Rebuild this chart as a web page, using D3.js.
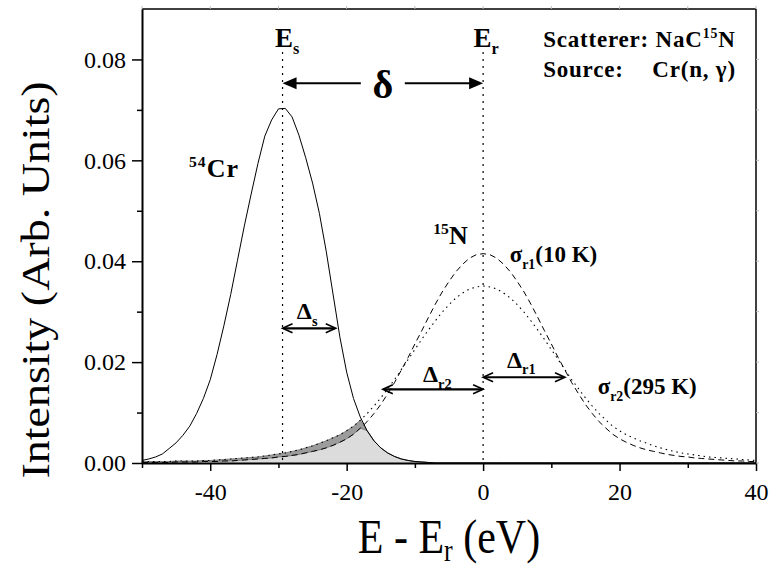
<!DOCTYPE html>
<html>
<head>
<meta charset="utf-8">
<script src="https://cdn.jsdelivr.net/npm/d3@7"></script>
<style>
  body { margin: 0; background: #fff; }
  svg text { font-family: "Liberation Serif", "Times New Roman", serif; fill: #000; }
</style>
</head>
<body>
<svg id="chart" width="770" height="571"></svg>
<script>
// ---- Data ----
// energy grid, E - Er in eV
const energies = [
  -50,-49,-48,-47,-46,-45,-44,-43,-42,-41,
  -40,-39,-38,-37,-36,-35,-34,-33,-32,-31,
  -30,-29,-28,-27,-26,-25,-24,-23,-22,-21,
  -20,-19,-18,-17,-16,-15,-14,-13,-12,-11,
  -10,-9,-8,-7,-6,-5,-4,-3,-2,-1,
  0,
  1,2,3,4,5,6,7,8,9,10,
  11,12,13,14,15,16,17,18,19,20,
  21,22,23,24,25,26,27,28,29,30,
  31,32,33,34,35,36,37,38,39,40
];

// 54Cr source line (solid)
const crIntensity = [
  .0005,.0008,.0012,.0018,.0029,.0040,.0055,.0073,.0098,.0128,
  .0165,.0215,.0272,.0334,.0402,.0470,.0533,.0594,.0648,.0680,
  .0702,.0703,.0686,.0650,.0605,.0555,.0495,.0420,.0335,.0250,
  .0180,.0128,.0091,.0064,.0044,.0030,.0020,.0013,.0008,.0005,
  .0003,.0002,.0001,0,0,0,0,0,0,0,
  0,
  0,0,0,0,0,0,0,0,0,0,
  0,0,0,0,0,0,0,0,0,0,
  0,0,0,0,0,0,0,0,0,0,
  0,0,0,0,0,0,0,0,0,0
];

// 15N resonance, sigma_r1 (10 K), dashed
const sigmaR1 = [
  .0001,.0001,.0001,.0001,.0001,.0002,.0002,.0002,.0002,.0003,
  .0003,.0003,.0004,.0004,.0005,.0006,.0007,.0008,.0009,.0010,
  .0012,.0013,.0015,.0017,.0020,.0023,.0026,.0030,.0035,.0041,
  .0048,.0057,.0069,.0082,.0098,.0116,.0137,.0159,.0184,.0209,
  .0236,.0262,.0289,.0315,.0339,.0360,.0379,.0394,.0406,.0413,
  .0415,
  .0413,.0406,.0394,.0379,.0360,.0339,.0315,.0289,.0262,.0236,
  .0209,.0184,.0159,.0137,.0116,.0098,.0082,.0069,.0057,.0048,
  .0041,.0035,.0030,.0026,.0023,.0020,.0017,.0015,.0013,.0012,
  .0010,.0009,.0008,.0007,.0006,.0005,.0004,.0004,.0003,.0003
];

// 15N resonance, sigma_r2 (295 K), dotted
const sigmaR2 = [
  .0003,.0003,.0003,.0003,.0003,.0004,.0004,.0004,.0004,.0005,
  .0005,.0006,.0007,.0008,.0009,.0010,.0011,.0012,.0014,.0016,
  .0018,.0020,.0023,.0026,.0030,.0034,.0039,.0044,.0050,.0056,
  .0064,.0073,.0085,.0098,.0113,.0129,.0147,.0165,.0185,.0205,
  .0225,.0245,.0264,.0282,.0299,.0314,.0327,.0337,.0345,.0349,
  .0351,
  .0349,.0345,.0337,.0327,.0314,.0299,.0282,.0264,.0245,.0225,
  .0205,.0185,.0165,.0147,.0129,.0113,.0098,.0085,.0073,.0064,
  .0056,.0050,.0044,.0039,.0034,.0030,.0026,.0023,.0020,.0018,
  .0016,.0014,.0012,.0011,.0010,.0009,.0008,.0007,.0006,.0005
];

// ticks
const xTicksMajor = [-40, -20, 0, 20, 40];
const xTicksMinor = [-50, -30, -10, 10, 30];
const yTicksMajor = [0, 0.02, 0.04, 0.06, 0.08];
const yTicksMinor = [0.01, 0.03, 0.05, 0.07];

// reference energies
const energyS = -29.4;
const energyR = 0;

// half-width arrows
const widthArrowIds = ["s", "r2", "r1"];
const widthArrowFrom = [-29.4, 0, 0];
const widthArrowTo = [-21.6, -14.7, 12.0];
const widthArrowLevel = [0.0267, 0.0146, 0.0170];

// ---- Layout ----
const width = 770, height = 571;
const margin = { top: 9, right: 14, bottom: 108, left: 142 };

const svg = d3.select("#chart");

const xScale = d3.scaleLinear().domain([-50, 40]).range([margin.left, width - margin.right]);
const yScale = d3.scaleLinear().domain([0, 0.09]).range([height - margin.bottom, margin.top]);

const rows = energies.map((e, i) => ({
  e,
  cr: crIntensity[i],
  r1: sigmaR1[i],
  r2: sigmaR2[i]
}));

// ---- Overlap shading ----
const lowOverlap = d => Math.min(d.cr, d.r1);
const highOverlap = d => Math.min(d.cr, d.r2);

svg.append("path")
  .datum(rows)
  .attr("fill", "#dcdcdc")
  .attr("d", d3.area()
    .x(d => xScale(d.e))
    .y0(yScale(0))
    .y1(d => yScale(lowOverlap(d))));

svg.append("path")
  .datum(rows)
  .attr("fill", "#9c9c9c")
  .attr("stroke", "#666")
  .attr("stroke-width", 0.7)
  .attr("d", d3.area()
    .x(d => xScale(d.e))
    .y0(d => yScale(lowOverlap(d)))
    .y1(d => yScale(highOverlap(d))));

// ---- Curves ----
const lineOf = key => d3.line().x(d => xScale(d.e)).y(d => yScale(d[key]));

svg.append("path").datum(rows)
  .attr("fill", "none").attr("stroke", "#000").attr("stroke-width", 1)
  .attr("d", lineOf("cr"));

svg.append("path").datum(rows)
  .attr("fill", "none").attr("stroke", "#000").attr("stroke-width", 1)
  .attr("stroke-dasharray", "6,4")
  .attr("d", lineOf("r1"));

svg.append("path").datum(rows)
  .attr("fill", "none").attr("stroke", "#000").attr("stroke-width", 1.1)
  .attr("stroke-dasharray", "1.5,4")
  .attr("d", lineOf("r2"));

// ---- Vertical marker lines at Es and Er ----
svg.selectAll(".marker")
  .data([energyS, energyR])
  .join("line")
    .attr("class", "marker")
    .attr("x1", d => xScale(d)).attr("x2", d => xScale(d))
    .attr("y1", yScale(0.0815)).attr("y2", yScale(0))
    .attr("stroke", "#000").attr("stroke-width", 1.2)
    .attr("stroke-dasharray", "2,5");

// ---- Axes ----
const xAxisG = svg.append("g").attr("transform", `translate(0,${yScale(0)})`);
xAxisG.call(d3.axisBottom(xScale).tickValues(xTicksMajor).tickSize(8).tickSizeOuter(0).tickPadding(12)
  .tickFormat(d => String(d)));
xAxisG.append("g").call(d3.axisBottom(xScale).tickValues(xTicksMinor).tickSize(5).tickFormat(""))
  .call(g => g.select(".domain").remove());

const yAxisG = svg.append("g").attr("transform", `translate(${xScale(-50)},0)`);
yAxisG.call(d3.axisLeft(yScale).tickValues(yTicksMajor).tickSize(10).tickSizeOuter(0).tickPadding(6)
  .tickFormat(d3.format(".2f")));
yAxisG.append("g").call(d3.axisLeft(yScale).tickValues(yTicksMinor).tickSize(5).tickFormat(""))
  .call(g => g.select(".domain").remove());

svg.selectAll(".domain").attr("stroke-width", 2);
svg.selectAll(".tick line").attr("stroke-width", 1.5);
svg.selectAll(".tick text").style("font-size", "24px");

// frame: top and right
svg.append("line")
  .attr("x1", xScale(-50)).attr("x2", xScale(40))
  .attr("y1", yScale(0.09)).attr("y2", yScale(0.09))
  .attr("stroke", "#000").attr("stroke-width", 1.5);
svg.append("line")
  .attr("x1", xScale(40)).attr("x2", xScale(40))
  .attr("y1", yScale(0.09)).attr("y2", yScale(0))
  .attr("stroke", "#000").attr("stroke-width", 1.5);

// faint mirror ticks on the frame
svg.selectAll(".topTick")
  .data(xTicksMajor.concat(xTicksMinor))
  .join("line")
    .attr("x1", d => xScale(d)).attr("x2", d => xScale(d))
    .attr("y1", yScale(0.09)).attr("y2", yScale(0.09) - 3)
    .attr("stroke", "#bbb");
svg.selectAll(".rightTick")
  .data(yTicksMajor.concat(yTicksMinor))
  .join("line")
    .attr("x1", xScale(40)).attr("x2", xScale(40) + 3)
    .attr("y1", d => yScale(d)).attr("y2", d => yScale(d))
    .attr("stroke", "#bbb");

// ---- Axis titles ----
const xTitle = svg.append("text")
  .attr("transform", `translate(${(xScale(-50) + xScale(40)) / 2},553) scale(1,1.18)`)
  .attr("text-anchor", "middle")
  .style("font-size", "42px");
xTitle.append("tspan").text("E - E");
xTitle.append("tspan").attr("dy", 7).style("font-size", "26px").text("r");
xTitle.append("tspan").attr("dy", -7).text(" (eV)");

svg.append("text")
  .attr("transform", "translate(49,280) rotate(-90) scale(1.15,1)")
  .attr("text-anchor", "middle")
  .style("font-size", "40px")
  .text("Intensity (Arb. Units)");

// ---- Annotations ----
// helper: text made of parts, each {t, sub, sup}
function addLabel(ex, vy, parts, size, opts = {}) {
  const t = svg.append("text")
    .attr("x", xScale(ex)).attr("y", yScale(vy))
    .style("font-size", size + "px")
    .style("font-weight", opts.weight || "bold")
    .style("letter-spacing", opts.spacing || "0px");
  let shift = 0;
  parts.forEach(p => {
    const target = p.sub ? size * 0.28 : p.sup ? -size * 0.38 : 0;
    const span = t.append("tspan").attr("dy", target - shift).text(p.t);
    if (p.sub || p.sup) span.style("font-size", (size * 0.6) + "px");
    shift = target;
  });
  return t;
}

addLabel(-30.5, 0.0825, [{ t: "E" }, { t: "s", sub: true }], 27);
addLabel(-1.4, 0.0825, [{ t: "E" }, { t: "r", sub: true }], 27);

addLabel(8.8, 0.0825, [{ t: "Scatterer: NaC" }, { t: "15", sup: true }, { t: "N" }], 23, { spacing: "0.8px" });
addLabel(8.8, 0.0765, [{ t: "Source:" }], 23, { spacing: "0.8px" });
addLabel(24.8, 0.0765, [{ t: "Cr(n, γ)" }], 23, { spacing: "0.8px" });

addLabel(-43.1, 0.0567, [{ t: "54", sup: true }, { t: "Cr" }], 26, { spacing: "1px" });
addLabel(-7.3, 0.0434, [{ t: "15", sup: true }, { t: "N" }], 26);

addLabel(3.9, 0.0398, [{ t: "σ" }, { t: "r1", sub: true }, { t: "(10 K)" }], 23);
addLabel(16.8, 0.0136, [{ t: "σ" }, { t: "r2", sub: true }, { t: "(295 K)" }], 23);

addLabel(-27.3, 0.0285, [{ t: "Δ" }, { t: "s", sub: true }], 24);
addLabel(-8.8, 0.0161, [{ t: "Δ" }, { t: "r2", sub: true }], 24);
addLabel(3.5, 0.0189, [{ t: "Δ" }, { t: "r1", sub: true }], 24);

// delta arrow between Es and Er
const deltaY = yScale(0.0753);
const deltaMid = (xScale(energyS) + xScale(energyR)) / 2;
svg.append("text")
  .attr("x", deltaMid).attr("y", deltaY + 15)
  .attr("text-anchor", "middle")
  .style("font-size", "40px").style("font-weight", "bold")
  .text("δ");
[[xScale(energyS), deltaMid - 22], [xScale(energyR), deltaMid + 22]].forEach(([tip, inner]) => {
  const dir = inner > tip ? 1 : -1;
  svg.append("line")
    .attr("x1", tip + dir * 10).attr("x2", inner)
    .attr("y1", deltaY).attr("y2", deltaY)
    .attr("stroke", "#000").attr("stroke-width", 2);
  svg.append("path")
    .attr("d", `M${tip},${deltaY}L${tip + dir * 14},${deltaY - 6}L${tip + dir * 14},${deltaY + 6}Z`)
    .attr("fill", "#000");
});

// half-width double arrows
widthArrowIds.forEach((id, i) => {
  const x1 = xScale(Math.min(widthArrowFrom[i], widthArrowTo[i]));
  const x2 = xScale(Math.max(widthArrowFrom[i], widthArrowTo[i]));
  const yy = yScale(widthArrowLevel[i]);
  const g = svg.append("g").attr("class", `arrow-${id}`)
    .attr("fill", "none").attr("stroke", "#000");
  g.append("line").attr("x1", x1 + 1).attr("x2", x2 - 1).attr("y1", yy).attr("y2", yy)
    .attr("stroke-width", 2.2);
  g.append("path").attr("d", `M${x1 + 10},${yy - 4.5}L${x1},${yy}L${x1 + 10},${yy + 4.5}`)
    .attr("stroke-width", 1.6);
  g.append("path").attr("d", `M${x2 - 10},${yy - 4.5}L${x2},${yy}L${x2 - 10},${yy + 4.5}`)
    .attr("stroke-width", 1.6);
});
</script>
</body>
</html>
